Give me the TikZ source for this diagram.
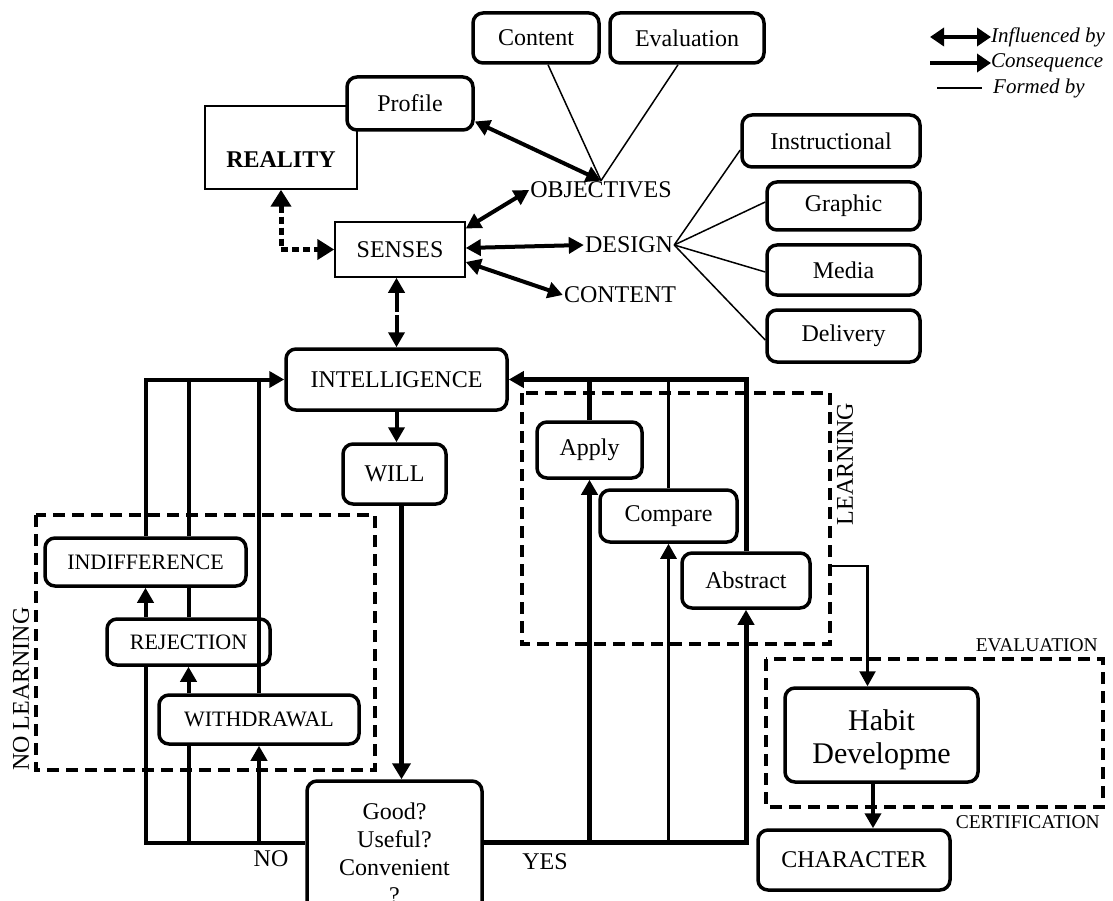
\documentclass[tikz,border=0pt]{standalone}
\usepackage{fontspec}
\setmainfont{Liberation Serif}
\usetikzlibrary{arrows.meta,calc}
\newcommand\fa{\fontsize{24}{28}\selectfont}
\newcommand\fb{\fontsize{22}{26}\selectfont}
\newcommand\fc{\fontsize{19.5}{23}\selectfont}
\newcommand\fd{\fontsize{21}{25}\selectfont}
\newcommand\fe{\fontsize{30}{33}\selectfont}
\begin{document}
\begin{tikzpicture}[x=1pt,y=-1pt,
 >={Triangle[length=15pt,width=16pt]},
 rbox/.style={draw, line width=3.5pt, rounded corners=10pt, fill=white, inner sep=0pt, align=center, font=\fa},
 tbox/.style={draw, line width=1.5pt, fill=white, inner sep=0pt, font=\fa},
 txt/.style={inner sep=1pt, font=\fa},
 infl/.style={<->, line width=4pt},
 cons/.style={->, line width=4pt},
 lfour/.style={line width=4pt},
 form/.style={line width=1.5pt},
 dbox/.style={line width=4pt, dash pattern=on 12pt off 7pt},
 legtxt/.style={inner sep=0pt, font=\fd\itshape, anchor=west}
]
\useasboundingbox (0,0) rectangle (1113,901);
\clip (0,0) rectangle (1113,901);

% dashed frames
\draw[dbox] (36,515) rectangle (375,770);
\draw[dbox] (522,393) rectangle (830,644);
\draw[dbox] (766,659) rectangle (1103,807);

% nodes
\node[rbox, minimum width=126pt, minimum height=50pt] (content) at (536,38) {Content};
\node[rbox, minimum width=154pt, minimum height=50pt] (evalb) at (687,38) {Evaluation};
\node[tbox, minimum width=152pt, minimum height=83pt, label={[font=\fa\bfseries, yshift=-12.5pt]center:REALITY}] (reality) at (281,147.5) {};
\node[rbox, minimum width=126pt, minimum height=53pt] (profile) at (410,103.5) {Profile};
\node[tbox, minimum width=130pt, minimum height=55pt] (senses) at (400,249.5) {SENSES};
\node[txt] (obj) at (601,190) {OBJECTIVES};
\node[txt] (design) at (629,245) {DESIGN};
\node[txt] (contt) at (620,295) {CONTENT};
\node[rbox, minimum width=178pt, minimum height=52pt] (instr) at (831,141) {Instructional};
\node[rbox, minimum width=153pt, minimum height=48pt] (graphic) at (843.5,206) {Graphic};
\node[rbox, minimum width=153pt, minimum height=50pt] (media) at (843.5,270) {Media};
\node[rbox, minimum width=153pt, minimum height=52pt] (deliv) at (843.5,336) {Delivery};
\node[rbox, minimum width=221pt, minimum height=61pt] (intel) at (396.5,379.5) {INTELLIGENCE};
\node[rbox, minimum width=103pt, minimum height=60pt] (will) at (394.5,474) {WILL};
\node[rbox, minimum width=175pt, minimum height=144pt] (good) at (394.5,853) {Good?\\Useful?\\Convenient\\?};
\node[rbox, font=\fb, minimum width=201pt, minimum height=48pt] (indiff) at (145.5,562) {INDIFFERENCE};
\node[rbox, font=\fb, minimum width=163pt, minimum height=46pt] (rej) at (188.5,642) {REJECTION};
\node[rbox, font=\fb, minimum width=200pt, minimum height=49pt] (withd) at (259,719.5) {WITHDRAWAL};
\node[rbox, minimum width=105pt, minimum height=56pt] (apply) at (589.5,450) {Apply};
\node[rbox, minimum width=137pt, minimum height=52pt] (cmp) at (668.5,516) {Compare};
\node[rbox, minimum width=128pt, minimum height=55pt] (abs) at (746,580.5) {Abstract};
\node[rbox, minimum width=193pt, minimum height=94pt, label={[font=\fe, align=center, yshift=-5pt]center:Habit\\Developme}] (habit) at (881.5,735) {};
\node[rbox, minimum width=192pt, minimum height=60pt] (char) at (854,860) {CHARACTER};

% labels
\node[txt, rotate=90] (nolab) at (21,689) {NO LEARNING};
\node[txt, rotate=90] (lrnlab) at (845,464) {LEARNING};
\node[txt] (nol) at (271,859) {NO};
\node[txt] (yesl) at (545,862) {YES};
\node[inner sep=0pt, font=\fc, anchor=east] (evl) at (1098,645) {EVALUATION};
\node[inner sep=0pt, font=\fc, anchor=east] (cerl) at (1100,822) {CERTIFICATION};

% legend
\node[legtxt] (lg1) at (991,37) {Influenced by};
\node[legtxt] (lg2) at (991,63) {Consequence};
\node[legtxt] (lg3) at (993,88) {Formed by};
\coordinate (lg1s) at (930,37);
\coordinate (lg2s) at (930,63);
\coordinate (lg3s) at (937,88);
\draw[<->, line width=4pt, >={Triangle[length=14pt,width=18pt]}] (lg1s) -- (lg1.west);
\draw[->, line width=4pt, >={Triangle[length=14pt,width=18pt]}] (lg2s) -- (lg2.west);
\draw[form] (lg3s) -- ([xshift=-11pt]lg3.west);

% formed by
\draw[form] ([xshift=12pt]content.south) -- (obj.north);
\draw[form] ([xshift=-9pt]evalb.south) -- (obj.north);
\draw[form] (design.east) -- ([yshift=-9pt]instr.west);
\draw[form] (design.east) -- ([yshift=4pt]graphic.west);
\draw[form] (design.east) -- ([yshift=-2pt]media.west);
\draw[form] (design.east) -- ([yshift=-4pt]deliv.west);

% influenced by
\draw[infl] ([yshift=-18pt]profile.east) -- (obj.north);
\draw[infl] ([yshift=21pt]senses.east) -- (obj.west);
\draw[infl] ([yshift=1.5pt]senses.east) -- (design.west);
\draw[infl] ([yshift=-12.5pt]senses.east) -- (contt.west);
\draw[<->, line width=5pt, dash pattern=on 7pt off 4pt, >={Triangle[length=17pt,width=20pt]}] (reality.south) |- (senses.west);
\draw[infl, dash pattern=on 20pt off 3pt] (senses.south -| intel.north) -- (intel.north);

% consequence
\draw[cons] (intel.south) -- (intel.south |- will.north);
\draw[->, line width=5pt, >={Triangle[length=16pt,width=18pt]}] ([xshift=7pt]will.south) -- ([xshift=7pt]will.south |- good.north);

% NO branch
\coordinate (nob) at ([yshift=10pt]good.west);
\draw[lfour] (nob) -| (rej.south -| indiff.south);
\draw[cons] (rej.north -| indiff.south) -- (indiff.south);
\draw[cons] (indiff.north) |- (intel.west);
\draw[lfour] (nob -| rej.south) -- (withd.south -| rej.south);
\draw[cons] (withd.north -| rej.south) -- (rej.south);
\draw[lfour] (rej.north) -- (indiff.south -| rej.north);
\draw[lfour] (indiff.north -| rej.north) -- (intel.west -| rej.north);
\draw[cons] (nob -| withd.south) -- (withd.south);
\draw[lfour] (withd.north) -- (intel.west -| withd.north);

% YES branch
\coordinate (yes) at ([yshift=11pt]good.east);
\draw[->, line width=5pt] (yes) -| (abs.south);
\draw[->, line width=5pt] (yes -| apply.south) -- (apply.south);
\draw[->, line width=3pt] (yes -| cmp.south) -- (cmp.south);
\draw[->, line width=5pt] (abs.north) |- (intel.east);
\draw[line width=5pt] (apply.north) -- (apply.north |- intel.east);
\draw[line width=3pt] (cmp.north) -- (cmp.north |- intel.east);

% learning -> habit -> character
\coordinate (lx) at (830,566);
\draw[->, line width=2.5pt] (lx) -| ([xshift=-14pt]habit.north);
\draw[cons] ([xshift=-8.5pt]habit.south) -- ([xshift=-8.5pt]habit.south |- char.north);
\end{tikzpicture}
\end{document}
